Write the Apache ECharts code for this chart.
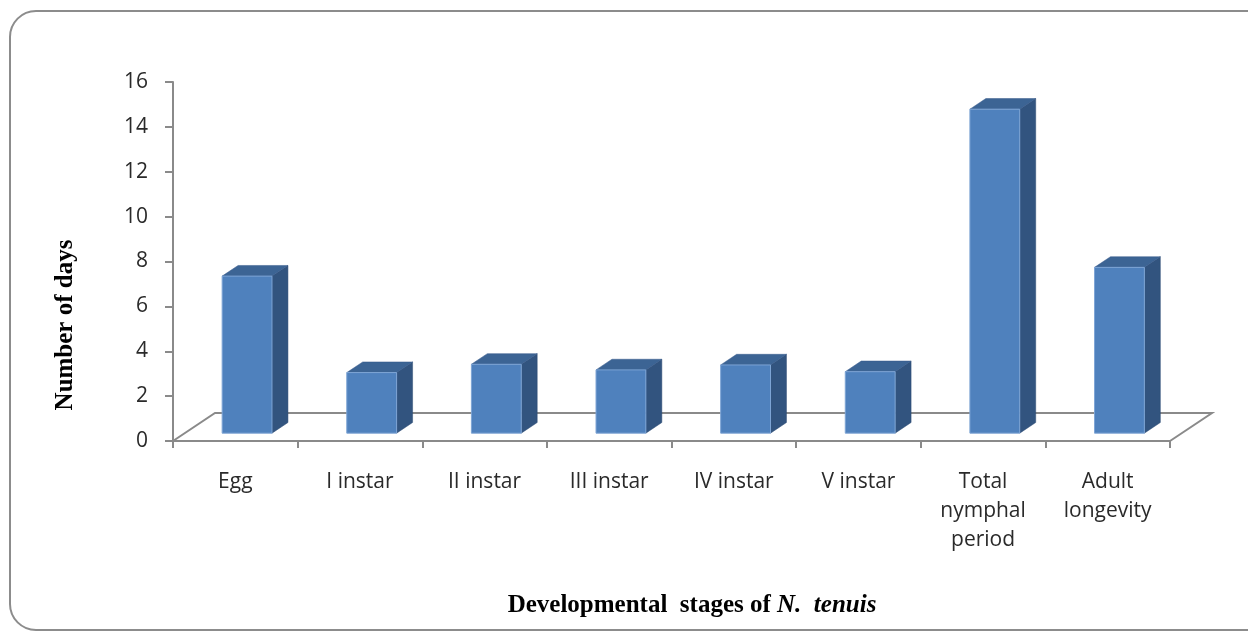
<!DOCTYPE html>
<html><head><meta charset="utf-8">
<script src="https://cdn.jsdelivr.net/npm/echarts@6/dist/echarts.min.js"></script>
<style>html,body{margin:0;padding:0;background:#fff}#c{width:1248px;height:632px}</style>
</head><body><div id="c"></div>
<script>
// ---- data ----
const categories = ['Egg', 'I instar', 'II instar', 'III instar', 'IV instar', 'V instar', 'Total\nnymphal\nperiod', 'Adult\nlongevity'];
const days = [7.0, 2.7, 3.07, 2.82, 3.04, 2.74, 14.44, 7.39];
const yMin = 0, yMax = 16, yStep = 2;
const yTitle = 'Number of days';
const xTitleMain = 'Developmental  stages of ';
const xTitleItalic = 'N.  tenuis';

// ---- 3D look ----
const DX = 42, DY = 28;          // floor depth offset in px
const D0 = 0.28, D1 = 0.66;      // bar depth range (fraction of floor depth)
const BAR_W = 0.4;               // bar width as fraction of category
const AXIS_C = '#8a8a8a';

const chart = echarts.init(document.getElementById('c'));

function renderFloor(params, api) {
  const p0 = api.coord([0, 0]);
  const cw = api.size([1, 0])[0];
  const left = p0[0] - cw / 2;
  const right = left + cw * categories.length;
  const y0 = p0[1];
  return {
    type: 'polyline',
    shape: { points: [[left, y0], [left + DX, y0 - DY], [right + DX, y0 - DY], [right, y0]] },
    style: { stroke: AXIS_C, lineWidth: 2, fill: null }
  };
}

function renderBar(params, api) {
  const i = api.value(0), v = api.value(1);
  const base = api.coord([i, 0]);
  const top = api.coord([i, v]);
  const cw = api.size([1, 0])[0];
  const w = cw * BAR_W;
  const fx = base[0] - w / 2 + DX * D0;
  const fy0 = base[1] - DY * D0;
  const fy1 = top[1] - DY * D0;
  const ddx = DX * (D1 - D0), ddy = DY * (D1 - D0);
  return {
    type: 'group',
    children: [
      { type: 'polygon', shape: { points: [[fx + w, fy0], [fx + w + ddx, fy0 - ddy], [fx + w + ddx, fy1 - ddy], [fx + w, fy1]] },
        style: { fill: '#32547f', stroke: '#2c4a72', lineWidth: 0.5 } },
      { type: 'polygon', shape: { points: [[fx, fy1], [fx + ddx, fy1 - ddy], [fx + w + ddx, fy1 - ddy], [fx + w, fy1]] },
        style: { fill: '#3c6494', stroke: '#36598a', lineWidth: 0.5 } },
      { type: 'rect', shape: { x: fx, y: fy1, width: w, height: fy0 - fy1 },
        style: { fill: '#4f81bd', stroke: '#7ea5d5', lineWidth: 1 } }
    ]
  };
}

chart.setOption({
  animation: false,
  backgroundColor: '#fff',
  grid: { left: 173, right: 78, top: 82, bottom: 191 },
  xAxis: {
    type: 'category',
    data: categories,
    axisLine: { show: true, lineStyle: { color: AXIS_C, width: 2 } },
    axisTick: { show: true, length: 7, lineStyle: { color: AXIS_C, width: 2 } },
    axisLabel: { interval: 0, margin: 27, color: '#2a2a2a', fontFamily: 'Open Sans', fontSize: 21, lineHeight: 29 },
    splitLine: { show: false }
  },
  yAxis: {
    type: 'value',
    min: yMin, max: yMax, interval: yStep,
    axisLine: { show: true, lineStyle: { color: AXIS_C, width: 2 } },
    axisTick: { show: true, length: 8, lineStyle: { color: AXIS_C, width: 2 } },
    axisLabel: { margin: 25, color: '#2a2a2a', fontFamily: 'Open Sans', fontSize: 21 },
    splitLine: { show: false }
  },
  series: [
    { type: 'custom', z: 1, renderItem: renderFloor, data: [[0]], silent: true },
    { type: 'custom', z: 2, renderItem: renderBar, data: days.map((v, i) => [i, v]),
      encode: { x: 0, y: 1 } }
  ],
  graphic: [
    { type: 'rect', z: -1, shape: { x: 10, y: 11, width: 1262, height: 619, r: 26 },
      style: { fill: 'none', stroke: '#8c8c8c', lineWidth: 2 } },
    { type: 'text', x: 66, y: 325, rotation: Math.PI / 2,
      style: { text: yTitle, align: 'center', verticalAlign: 'middle',
        font: 'bold 25px "Liberation Serif"', fill: '#000' } },
    { type: 'text', x: 692, y: 606,
      style: { text: '{a|' + xTitleMain + '}{b|' + xTitleItalic + '}', align: 'center', verticalAlign: 'middle',
        rich: {
          a: { fontFamily: 'Liberation Serif', fontWeight: 'bold', fontSize: 25, fill: '#000', color: '#000' },
          b: { fontFamily: 'Liberation Serif', fontWeight: 'bold', fontStyle: 'italic', fontSize: 25, fill: '#000', color: '#000' }
        } } }
  ]
});
</script></body></html>
